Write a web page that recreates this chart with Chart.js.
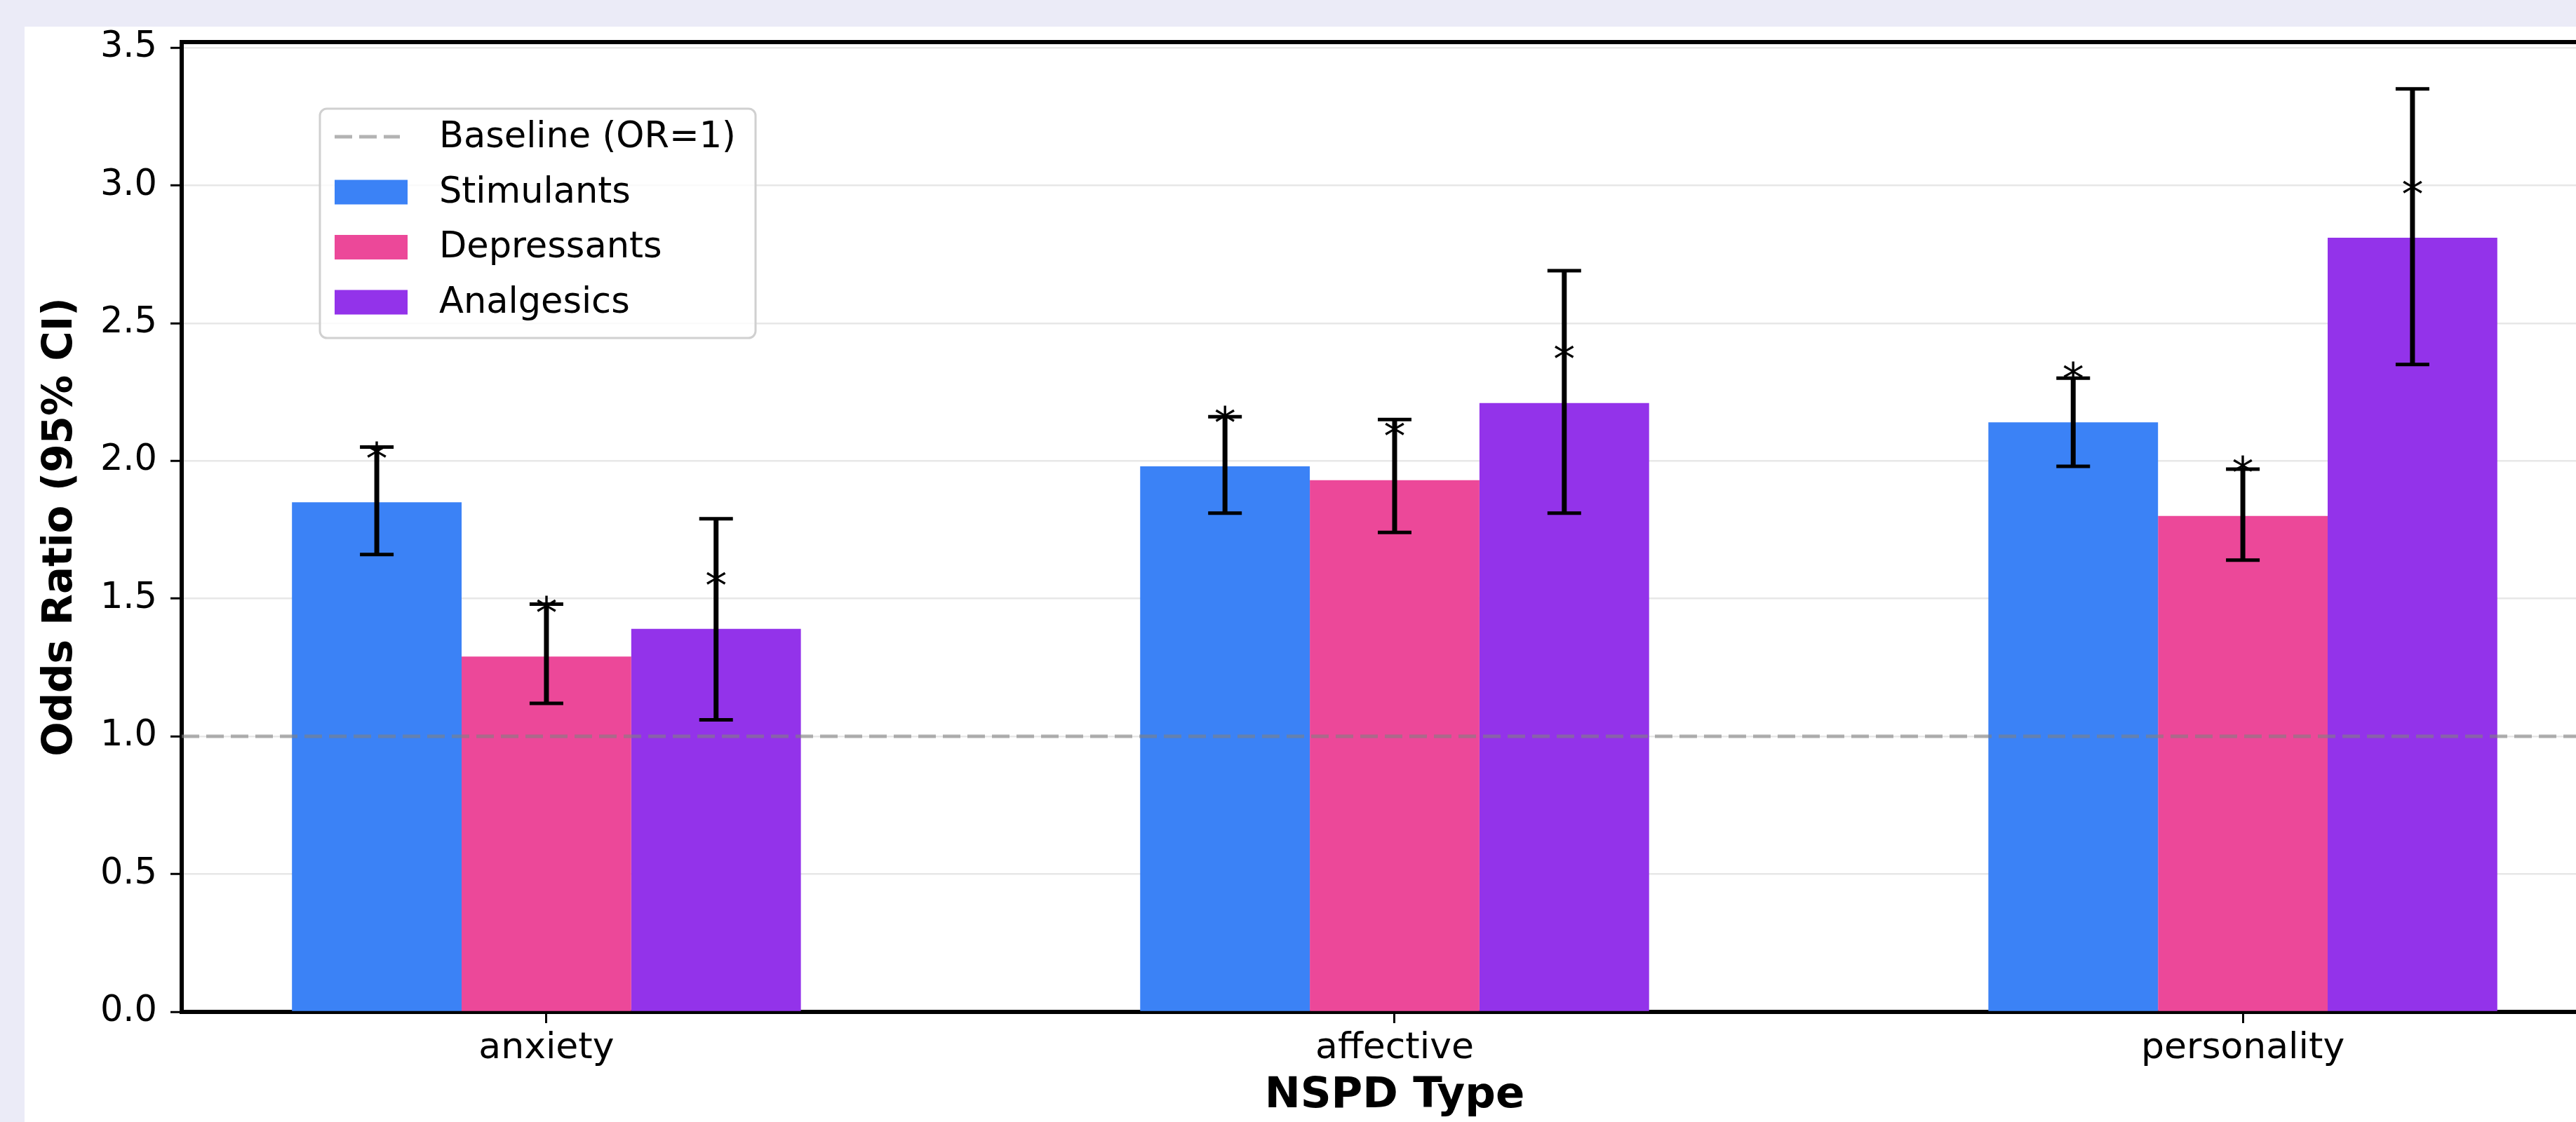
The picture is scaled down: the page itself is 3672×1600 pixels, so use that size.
<!DOCTYPE html>
<html>
<head>
<meta charset="utf-8">
<script src="https://cdn.jsdelivr.net/npm/chart.js@4.4.1/dist/chart.umd.min.js"></script>
<style>
  html, body { margin: 0; padding: 0; background: #ebebf7; overflow: hidden; width: 3672px; height: 1600px; }
  #wrap { position: absolute; left: 35px; top: 38px; width: 3760px; height: 1562px; background: #fff; }
</style>
</head>
<body>
<div id="wrap"><canvas id="chart"></canvas></div>
<script>
const categories = ['anxiety', 'affective', 'personality'];

const stimulants = [1.85, 1.98, 2.14];
const stimLow = [1.66, 1.81, 1.98];
const stimHigh = [2.05, 2.16, 2.30];

const depressants = [1.29, 1.93, 1.80];
const depLow = [1.12, 1.74, 1.64];
const depHigh = [1.48, 2.15, 1.97];

const analgesics = [1.39, 2.21, 2.81];
const anaLow = [1.06, 1.81, 2.35];
const anaHigh = [1.79, 2.69, 3.35];

const yTicks = [0, 0.5, 1, 1.5, 2, 2.5, 3, 3.5];
const baseline = 1;
const xRange = [-0.43, 2.43];
const yMax = 3.52;
const starOffset = 0.2;

Chart.defaults.font.family = '"DejaVu Sans", sans-serif';
Chart.defaults.color = '#000';

const toPoints = vals => vals.map((v, i) => ({ x: i, y: v }));

function barSet(label, vals, lo, hi, color) {
  return {
    label: label,
    data: toPoints(vals),
    backgroundColor: color,
    borderWidth: 0,
    categoryPercentage: 0.6,
    barPercentage: 1.0,
    ciLow: lo,
    ciHigh: hi
  };
}

// error bars, significance stars, top/right spines and the legend box
const overlayPlugin = {
  id: 'overlay',
  afterDraw(chart) {
    const ctx = chart.ctx;
    const yScale = chart.scales.y;
    const area = chart.chartArea;

    chart.data.datasets.forEach((ds, di) => {
      if (!ds.ciLow) return;
      const meta = chart.getDatasetMeta(di);
      meta.data.forEach((bar, i) => {
        const x = bar.x;
        const yLo = yScale.getPixelForValue(ds.ciLow[i]);
        const yHi = yScale.getPixelForValue(ds.ciHigh[i]);
        ctx.save();
        ctx.strokeStyle = '#000';
        ctx.lineWidth = 7;
        ctx.beginPath();
        ctx.moveTo(x, yLo);
        ctx.lineTo(x, yHi);
        ctx.stroke();
        ctx.lineWidth = 5;
        ctx.beginPath();
        ctx.moveTo(x - 24, yLo);
        ctx.lineTo(x + 24, yLo);
        ctx.moveTo(x - 24, yHi);
        ctx.lineTo(x + 24, yHi);
        ctx.stroke();

        const yStar = yScale.getPixelForValue(ds.data[i].y + starOffset);
        ctx.fillStyle = '#000';
        ctx.font = '62px "DejaVu Sans"';
        ctx.textAlign = 'center';
        ctx.textBaseline = 'alphabetic';
        ctx.fillText('*', x, yStar + 3 + 0.57 * 62);
        ctx.restore();
      });
    });

    // top and right spines
    ctx.save();
    ctx.strokeStyle = '#000';
    ctx.lineWidth = 6;
    ctx.beginPath();
    ctx.moveTo(area.left - 3, area.top);
    ctx.lineTo(area.right + 3, area.top);
    ctx.lineTo(area.right + 3, area.bottom);
    ctx.stroke();
    ctx.restore();

    // legend
    const bx = area.left + 197;
    const by = area.top + 95;
    const bw = 621;
    const bh = 327;
    ctx.save();
    ctx.beginPath();
    ctx.roundRect(bx, by, bw, bh, 10);
    ctx.fillStyle = 'rgba(255,255,255,0.8)';
    ctx.fill();
    ctx.strokeStyle = '#d0d0d0';
    ctx.lineWidth = 3;
    ctx.stroke();

    ctx.font = '51px "DejaVu Sans"';
    ctx.textAlign = 'left';
    ctx.textBaseline = 'middle';
    chart.data.datasets.forEach((ds, di) => {
      const cy = by + 40 + di * 78.5;
      if (ds.type === 'line') {
        ctx.strokeStyle = ds.borderColor;
        ctx.lineWidth = ds.borderWidth;
        ctx.setLineDash(ds.borderDash);
        ctx.beginPath();
        ctx.moveTo(bx + 21, cy);
        ctx.lineTo(bx + 114, cy);
        ctx.stroke();
        ctx.setLineDash([]);
      } else {
        ctx.fillStyle = ds.backgroundColor;
        ctx.fillRect(bx + 21, cy - 17, 104, 35);
      }
      ctx.fillStyle = '#000';
      ctx.fillText(ds.label, bx + 170, cy + 2);
    });
    ctx.restore();
  }
};

new Chart(document.getElementById('chart'), {
  type: 'bar',
  data: {
    datasets: [
      {
        type: 'line',
        label: 'Baseline (OR=1)',
        data: [{ x: xRange[0], y: baseline }, { x: xRange[1], y: baseline }],
        borderColor: 'rgba(128,128,128,0.6)',
        borderWidth: 5,
        borderDash: [25, 10],
        pointRadius: 0,
        fill: false
      },
      barSet('Stimulants', stimulants, stimLow, stimHigh, '#3b82f6'),
      barSet('Depressants', depressants, depLow, depHigh, '#ec4899'),
      barSet('Analgesics', analgesics, anaLow, anaHigh, '#9333ea')
    ]
  },
  options: {
    responsive: true,
    maintainAspectRatio: false,
    animation: false,
    layout: { padding: { top: 22, right: 78, left: 0, bottom: 0 } },
    plugins: {
      legend: { display: false },
      tooltip: { enabled: false }
    },
    scales: {
      x: {
        type: 'linear',
        min: xRange[0],
        max: xRange[1],
        bounds: 'data',
        offset: false,
        z: 1,
        afterBuildTicks: s => { s.ticks = categories.map((c, i) => ({ value: i })); },
        afterFit: s => { s.height = 157; s.paddingLeft = 0; s.paddingRight = 0; },
        ticks: {
          callback: v => categories[v],
          font: { size: 52 },
          color: '#000',
          padding: 5,
          maxRotation: 0,
          autoSkip: false
        },
        grid: {
          display: true,
          offset: false,
          drawOnChartArea: false,
          drawTicks: true,
          tickLength: 16,
          tickWidth: 3,
          tickColor: '#000'
        },
        border: { display: true, color: '#000', width: 6 },
        title: {
          display: true,
          text: 'NSPD Type',
          font: { size: 61, weight: 'bold' },
          color: '#000',
          padding: { top: 0, bottom: 0 }
        }
      },
      y: {
        min: 0,
        max: yMax,
        z: 1,
        afterBuildTicks: s => { s.ticks = yTicks.map(v => ({ value: v })); },
        afterFit: s => { s.width = 224; s.paddingTop = 0; s.paddingBottom = 0; },
        ticks: {
          callback: v => v.toFixed(1),
          font: { size: 51 },
          color: '#000',
          padding: 19
        },
        grid: {
          color: c => (c.tick && c.tick.value === 0) ? 'rgba(0,0,0,0)' : 'rgba(176,176,176,0.3)',
          lineWidth: 2.5,
          tickColor: '#000',
          tickWidth: 3,
          tickLength: 16
        },
        border: { display: true, color: '#000', width: 6 },
        title: {
          display: true,
          text: 'Odds Ratio (95% CI)',
          font: { size: 58, weight: 'bold' },
          color: '#000',
          padding: { top: 17, bottom: 0 }
        }
      }
    }
  },
  plugins: [overlayPlugin]
});
</script>
</body>
</html>
